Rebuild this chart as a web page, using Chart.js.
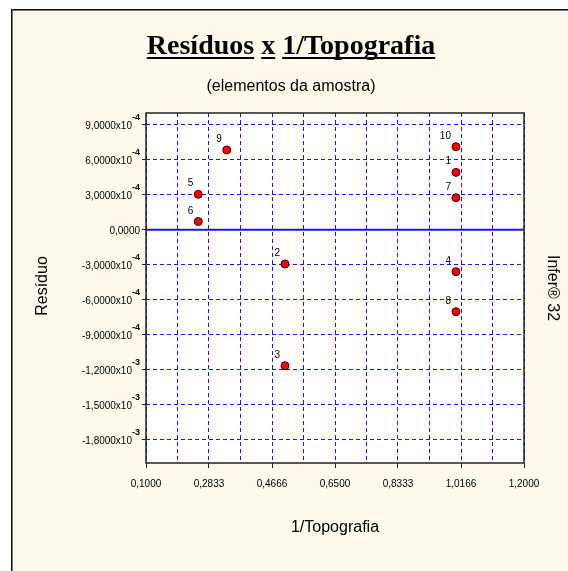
<!DOCTYPE html>
<html>
<head>
<meta charset="utf-8">
<script src="https://cdn.jsdelivr.net/npm/chart.js@4"></script>
<style>
    html, body { margin: 0; padding: 0; background: #ffffff; }
    canvas { display: block; }
</style>
</head>
<body>
<canvas id="residuos-chart" width="568" height="571"></canvas>
<script>
// Chart data
var pointLabels = ['1', '2', '3', '4', '5', '6', '7', '8', '9', '10'];
var xValues = [1.002, 0.5045, 0.5045, 1.002, 0.252, 0.252, 1.002, 1.002, 0.335, 1.002];
var yValues = [4.91e-4, -2.94e-4, -1.166e-3, -3.6e-4, 3.03e-4, 0.7e-4, 2.74e-4, -7.03e-4, 6.83e-4, 7.11e-4];

// Axis ticks and their labels
var xTicks = [0.1, 0.28333, 0.46667, 0.65, 0.83333, 1.01667, 1.2];
var xTickLabels = ['0,1000', '0,2833', '0,4666', '0,6500', '0,8333', '1,0166', '1,2000'];
var yTicks = [9e-4, 6e-4, 3e-4, 0, -3e-4, -6e-4, -9e-4, -1.2e-3, -1.5e-3, -1.8e-3];
var yTickMantissa = ['9,0000x10', '6,0000x10', '3,0000x10', '0,0000', '-3,0000x10', '-6,0000x10',
    '-9,0000x10', '-1,2000x10', '-1,5000x10', '-1,8000x10'];
var yTickExponent = ['-4', '-4', '-4', '', '-4', '-4', '-4', '-3', '-3', '-3'];

var GRID_BLUE = '#1414ff';
var CREAM = '#fff9ee';
var SANS = "'Liberation Sans', Arial, sans-serif";

/**
 * Find the label index of an x tick value (minor ticks have none)
 */
function xLabelIndex(value) {
    for (var i = 0; i < xTicks.length; i++) {
        if (Math.abs(xTicks[i] - value) < 1e-4) {
            return i;
        }
    }
    return -1;
}

// Major ticks plus the half-way grid lines between them
function xGridValues() {
    var vals = [];
    for (var i = 0; i < xTicks.length; i++) {
        vals.push(xTicks[i]);
        if (i < xTicks.length - 1) {
            vals.push((xTicks[i] + xTicks[i + 1]) / 2);
        }
    }
    return vals;
}

// Frame, background and the free texts around the plot
var framePlugin = {
    id: 'frame',
    beforeDraw: function(chart) {
        var ctx = chart.ctx;
        var area = chart.chartArea;
        ctx.save();
        ctx.fillStyle = '#ffffff';
        ctx.fillRect(0, 0, chart.width, chart.height);
        ctx.fillStyle = CREAM;
        ctx.fillRect(12, 10, chart.width, chart.height);
        ctx.fillStyle = '#111111';
        ctx.fillRect(11, 9, chart.width, 1);
        ctx.fillRect(11, 9, 1, chart.height);
        ctx.fillStyle = '#777777';
        ctx.fillRect(12, 10, chart.width, 1);
        ctx.fillRect(12, 10, 1, chart.height);

        // plot background
        ctx.fillStyle = '#ffffff';
        ctx.fillRect(area.left, area.top, area.right - area.left, area.bottom - area.top);

        // title, underlined word by word
        ctx.fillStyle = '#000000';
        ctx.font = "bold 28px 'Liberation Serif', 'Times New Roman', serif";
        ctx.textBaseline = 'alphabetic';
        ctx.textAlign = 'left';
        var words = ['Resíduos', 'x', '1/Topografia'];
        var space = ctx.measureText(' ').width;
        var total = 0;
        words.forEach(function(w, i) {
            total += ctx.measureText(w).width + (i > 0 ? space : 0);
        });
        var tx = 291 - total / 2;
        var baseline = 54;
        words.forEach(function(w) {
            var ww = ctx.measureText(w).width;
            ctx.fillText(w, tx, baseline);
            ctx.fillRect(tx, baseline + 3, ww, 2);
            tx += ww + space;
        });

        // subtitle
        ctx.font = '16px ' + SANS;
        ctx.textAlign = 'center';
        ctx.textBaseline = 'middle';
        ctx.fillText('(elementos da amostra)', 291, 87);

        // x axis title
        ctx.fillText('1/Topografia', 335, 528);

        // y axis title
        ctx.save();
        ctx.translate(43, 286);
        ctx.rotate(-Math.PI / 2);
        ctx.fillText('Resíduo', 0, 0);
        ctx.restore();

        // side note
        ctx.save();
        ctx.translate(552, 288);
        ctx.rotate(Math.PI / 2);
        ctx.fillText('Infer® 32', 0, 0);
        ctx.restore();
        ctx.restore();
    },
    beforeDatasetsDraw: function(chart) {
        var ctx = chart.ctx;
        var area = chart.chartArea;
        var y0 = chart.scales.y.getPixelForValue(0);
        ctx.save();
        ctx.strokeStyle = GRID_BLUE;
        ctx.lineWidth = 2;
        ctx.beginPath();
        ctx.moveTo(area.left, y0);
        ctx.lineTo(area.right, y0);
        ctx.stroke();

        // plot frame
        ctx.strokeStyle = '#222222';
        ctx.lineWidth = 1.5;
        ctx.strokeRect(area.left, area.top, area.right - area.left, area.bottom - area.top);
        ctx.restore();
    },
    afterDatasetsDraw: function(chart) {
        var ctx = chart.ctx;
        var meta = chart.getDatasetMeta(0);
        ctx.save();
        ctx.fillStyle = '#000000';
        ctx.font = '10px ' + SANS;
        ctx.textAlign = 'right';
        ctx.textBaseline = 'alphabetic';
        meta.data.forEach(function(pt, i) {
            ctx.fillText(pointLabels[i], pt.x - 5, pt.y - 8);
        });
        ctx.restore();
    },
    afterDraw: function(chart) {
        // y tick labels with a raised exponent
        var ctx = chart.ctx;
        var yScale = chart.scales.y;
        var right = 140;
        ctx.save();
        ctx.fillStyle = '#000000';
        ctx.textAlign = 'right';
        ctx.textBaseline = 'alphabetic';
        yTicks.forEach(function(v, i) {
            var y = yScale.getPixelForValue(v);
            var expW = 0;
            if (yTickExponent[i]) {
                ctx.font = 'bold 9px ' + SANS;
                expW = ctx.measureText(yTickExponent[i]).width;
                ctx.fillText(yTickExponent[i], right, y - 5);
            }
            ctx.font = '10px ' + SANS;
            ctx.fillText(yTickMantissa[i], right - expW, y + 4);
        });
        ctx.restore();
    }
};
</script>
<script>
(function() {
    'use strict';

    var ctx = document.getElementById('residuos-chart').getContext('2d');
    new Chart(ctx, {
        type: 'scatter',
        data: {
            datasets: [{
                data: xValues.map(function(x, i) {
                    return { x: x, y: yValues[i] };
                }),
                pointStyle: 'circle',
                pointRadius: 4,
                pointHoverRadius: 4,
                backgroundColor: '#ff0000',
                borderColor: '#400000',
                borderWidth: 1
            }]
        },
        options: {
            responsive: false,
            animation: false,
            events: [],
            layout: {
                padding: { left: 0, top: 113, right: 44, bottom: 78 }
            },
            plugins: {
                legend: { display: false },
                tooltip: { enabled: false }
            },
            scales: {
                x: {
                    type: 'linear',
                    min: 0.1,
                    max: 1.2,
                    afterBuildTicks: function(scale) {
                        scale.ticks = xGridValues().map(function(v) {
                            return { value: v };
                        });
                    },
                    afterFit: function(scale) {
                        scale.height = 30;
                    },
                    grid: {
                        color: GRID_BLUE,
                        lineWidth: 1,
                        drawTicks: true,
                        tickLength: 5,
                        tickColor: function(c) {
                            return xLabelIndex(c.tick.value) >= 0 ? '#222222' : 'rgba(0,0,0,0)';
                        }
                    },
                    border: { display: false, dash: [4, 3] },
                    ticks: {
                        autoSkip: false,
                        maxRotation: 0,
                        padding: 10,
                        color: '#000000',
                        font: { family: SANS, size: 10 },
                        callback: function(value) {
                            var i = xLabelIndex(value);
                            return i >= 0 ? xTickLabels[i] : '';
                        }
                    }
                },
                y: {
                    type: 'linear',
                    min: -2e-3,
                    max: 1e-3,
                    afterBuildTicks: function(scale) {
                        scale.ticks = yTicks.map(function(v) {
                            return { value: v };
                        });
                    },
                    afterFit: function(scale) {
                        scale.width = 146;
                    },
                    grid: {
                        color: GRID_BLUE,
                        lineWidth: 1,
                        drawTicks: true,
                        tickLength: 4,
                        tickColor: '#222222'
                    },
                    border: { display: false, dash: [4, 3] },
                    ticks: { display: false }
                }
            }
        },
        plugins: [framePlugin]
    });
})();
</script>
</body>
</html>
